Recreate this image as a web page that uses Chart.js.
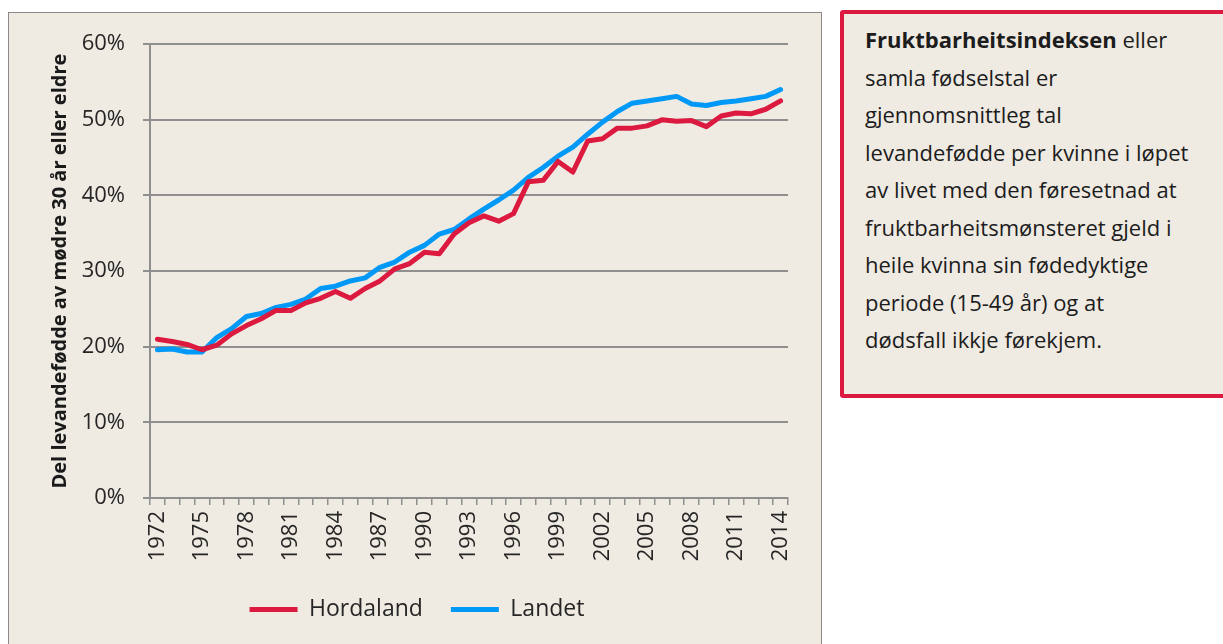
<!DOCTYPE html>
<html>
<head>
<meta charset="utf-8">
<script src="https://cdn.jsdelivr.net/npm/chart.js@4"></script>
<style>
  html, body { margin: 0; padding: 0; background: #ffffff; }
  body { width: 1223px; height: 644px; overflow: hidden; position: relative; font-family: "Open Sans", sans-serif; }
  #panel {
    position: absolute; left: 8px; top: 12px; width: 812px; height: 640px;
    border: 1px solid #8a8a8a; background: #efebe3;
  }
  #chartBox { position: absolute; left: 0; top: 0; width: 812px; height: 631px; }
  #note {
    position: absolute; left: 840px; top: 10px; width: 400px; height: 380px;
    border: 4px solid #dc1a40; border-radius: 3px; background: #efebe3;
    box-sizing: content-box;
  }
  #note p {
    margin: 0; padding: 7px 0 0 21px; font-size: 22px; line-height: 37.5px; color: #1c1c1c;
    white-space: nowrap;
  }
</style>
</head>
<body>
<div id="panel"><div id="chartBox"><canvas id="chart"></canvas></div></div>
<div id="note"><p><b>Fruktbarheitsindeksen</b> eller<br>samla fødselstal er<br>gjennomsnittleg tal<br>levandefødde per kvinne i løpet<br>av livet med den føresetnad at<br>fruktbarheitsmønsteret gjeld i<br>heile kvinna sin fødedyktige<br>periode (15-49 år) og at<br>dødsfall ikkje førekjem.</p></div>
<script>
// år på x-aksen
const years = [
  "1972", "1973", "1974", "1975", "1976", "1977", "1978", "1979", "1980", "1981",
  "1982", "1983", "1984", "1985", "1986", "1987", "1988", "1989", "1990", "1991",
  "1992", "1993", "1994", "1995", "1996", "1997", "1998", "1999", "2000", "2001",
  "2002", "2003", "2004", "2005", "2006", "2007", "2008", "2009", "2010", "2011",
  "2012", "2013", "2014"
];

// del levandefødde av mødre 30 år eller eldre (%)
const hordaland = [
  21.0, 20.7, 20.3, 19.6, 20.2, 21.7, 22.8, 23.7, 24.8, 24.8,
  25.8, 26.4, 27.3, 26.4, 27.7, 28.7, 30.3, 31.0, 32.5, 32.3,
  34.9, 36.4, 37.3, 36.6, 37.6, 41.8, 42.0, 44.5, 43.1, 47.2,
  47.5, 48.9, 48.9, 49.2, 50.0, 49.8, 49.9, 49.1, 50.5, 50.9,
  50.8, 51.4, 52.5
];
const landet = [
  19.6, 19.7, 19.3, 19.3, 21.2, 22.4, 24.0, 24.4, 25.2, 25.6,
  26.3, 27.7, 28.0, 28.7, 29.1, 30.5, 31.2, 32.5, 33.4, 34.9,
  35.5, 36.9, 38.2, 39.4, 40.7, 42.4, 43.7, 45.2, 46.4, 48.1,
  49.7, 51.1, 52.2, 52.5, 52.8, 53.1, 52.1, 51.9, 52.3, 52.5,
  52.8, 53.1, 54.0
];

const FONT = "'Open Sans', sans-serif";
const GRID = "#8f8f8f";
const TEXT = "#262626";

const ctx = document.getElementById("chart").getContext("2d");

const chart = new Chart(ctx, {
  type: "line",
  data: {
    labels: years,
    datasets: [
      {
        label: "Hordaland",
        data: hordaland,
        borderColor: "#dc1a40",
        backgroundColor: "#dc1a40",
        borderWidth: 5,
        borderCapStyle: "round",
        borderJoinStyle: "round",
        pointStyle: "line",
        pointRadius: 0,
        tension: 0,
        fill: false
      },
      {
        label: "Landet",
        data: landet,
        borderColor: "#0099f7",
        backgroundColor: "#0099f7",
        borderWidth: 5,
        borderCapStyle: "round",
        borderJoinStyle: "round",
        pointStyle: "line",
        pointRadius: 0,
        tension: 0,
        fill: false
      }
    ]
  },
  options: {
    responsive: true,
    maintainAspectRatio: false,
    animation: false,
    layout: {
      // left padding keeps the legend centred on the panel
      padding: { top: 28, right: 33, left: 37, bottom: 13 }
    },
    plugins: {
      tooltip: { enabled: false },
      legend: {
        position: "bottom",
        labels: {
          usePointStyle: true,
          pointStyleWidth: 48,
          padding: 28,
          color: TEXT,
          font: { family: FONT, size: 23 }
        }
      }
    },
    scales: {
      x: {
        offset: true,
        grid: {
          display: true,
          offset: true,
          drawOnChartArea: false,
          drawTicks: true,
          tickLength: 7,
          color: GRID,
          lineWidth: 1.5
        },
        border: { display: true, color: GRID, width: 2 },
        ticks: {
          autoSkip: false,
          maxRotation: 90,
          minRotation: 90,
          padding: 6,
          color: TEXT,
          font: { family: FONT, size: 22 },
          callback: function (value, index) {
            return index % 3 === 0 ? years[index] : "";
          }
        },
        afterFit: function (scale) { scale.height = 72; }
      },
      y: {
        min: 0,
        max: 60,
        grid: {
          color: GRID,
          lineWidth: 2,
          drawTicks: true,
          tickLength: 7
        },
        border: { display: true, color: GRID, width: 2 },
        ticks: {
          stepSize: 10,
          padding: 18,
          color: TEXT,
          font: { family: FONT, size: 22 },
          callback: function (v) { return v + "%"; }
        },
        title: {
          display: true,
          text: "Del levandefødde av mødre 30 år eller eldre",
          color: "#1a1a1a",
          font: { family: FONT, size: 20, weight: "bold" },
          padding: { top: 2, bottom: 0 }
        },
        afterFit: function (scale) { scale.width = 104; }
      }
    }
  }
});
</script>
</body>
</html>
